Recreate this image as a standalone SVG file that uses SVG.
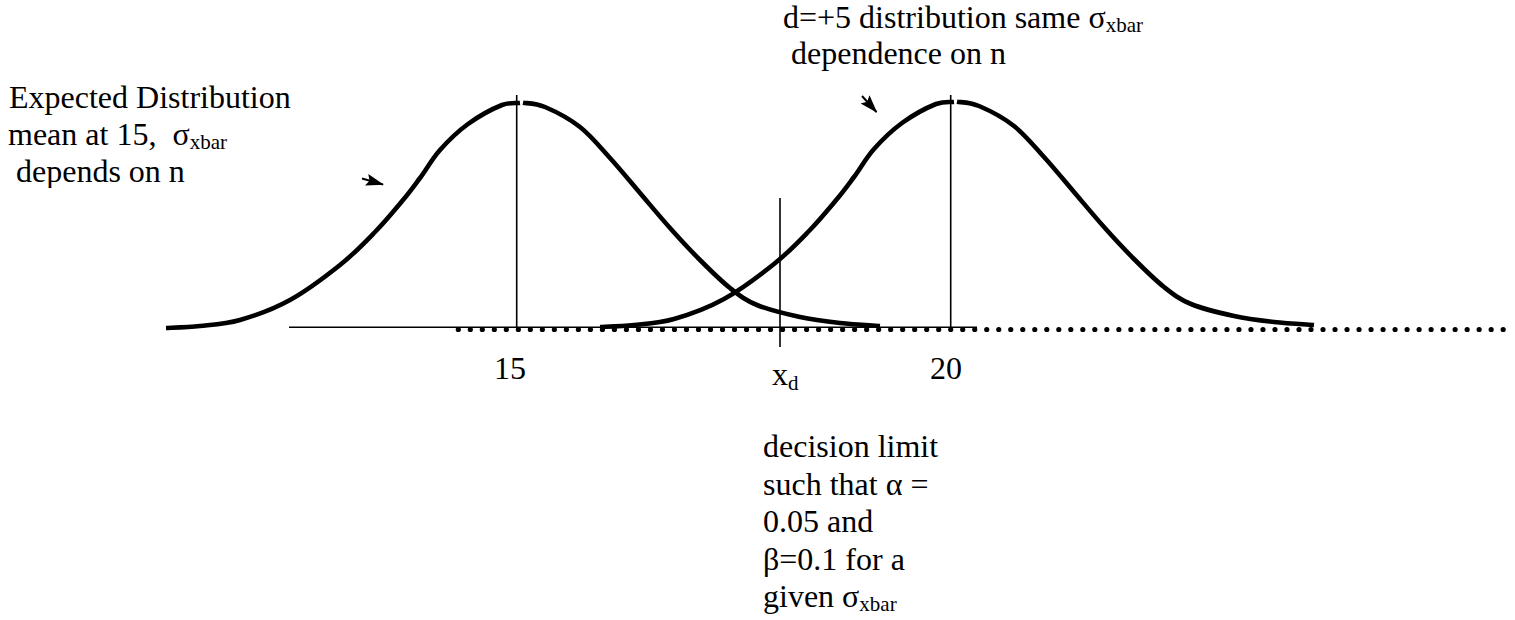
<svg xmlns="http://www.w3.org/2000/svg" width="1515" height="620" viewBox="0 0 1515 620" font-family="'Liberation Serif', 'Times New Roman', serif">
<style>
text{font-family:'Liberation Serif','Times New Roman',serif;font-size:32px;fill:#000;white-space:pre}
.sub{font-size:21px}
.curve{fill:none;stroke:#000;stroke-width:4.6;stroke-linejoin:round}
.thin{stroke:#000;stroke-width:1.6;fill:none}
.dots{stroke:#000;stroke-width:5.2;stroke-linecap:round;stroke-dasharray:0 12.01;fill:none}
.arr{stroke:#000;stroke-width:2;fill:none}
</style>
<defs>
<marker id="ah" viewBox="0 0 18 12" refX="17" refY="6" markerWidth="18" markerHeight="12" markerUnits="userSpaceOnUse" orient="auto" overflow="visible">
<path d="M0,0 L18,6 L0,12 L3,6 Z" fill="#000"/>
</marker>
<clipPath id="leftclip"><rect x="0" y="0" width="400" height="188"/></clipPath>
<g id="bell">
<path class="curve" d="M166,328 C171.7,327.7 187.7,327.3 200,326 C212.3,324.7 225,324.3 240,320 C255,315.7 273.3,309.2 290,300 C306.7,290.8 325.8,276.3 340,265 C354.2,253.7 364.5,242.8 375,232 C385.5,221.2 395.5,209 403,200 C410.5,191 413.8,186.3 420,178 C426.2,169.7 432,159 440,150 C448,141 457.7,131.5 468,124 C478.3,116.5 493.3,108.5 502,105 C510.7,102 517,103.3 520,103"/>
<path class="curve" d="M523,102.7 C526.7,103.4 535.5,103 545,107 C554.5,111.05 569.2,118.5 580,127 C590.8,135.5 600,147 610,158 C620,169 630,181.3 640,193 C650,204.7 660,216.8 670,228 C680,239.2 690,250 700,260 C710,270 720.5,280.5 730,288 C739.5,295.5 745.3,300.2 757,305 C768.7,309.8 786.2,314 800,317 C813.8,320 826.7,321.5 840,323 C853.3,324.5 873.3,325.5 880,326"/>
</g>
</defs>
<g id="axis">
<line class="thin" x1="289" y1="327.3" x2="977" y2="327.3"/>
<line class="dots" x1="458.3" y1="329.5" x2="1504" y2="329.5"/>
</g>
<g id="expected-curve">
<use href="#bell"/>
<line class="thin" x1="516.7" y1="95" x2="516.7" y2="327.3"/>
</g>
<g id="shifted-curve">
<use href="#bell" transform="translate(434,-1)"/>
<line class="thin" x1="950.7" y1="95" x2="950.7" y2="327.3"/>
</g>
<g id="decision-line">
<line class="thin" x1="780" y1="198" x2="780" y2="347"/>
</g>
<g id="connectors">
<line class="arr" x1="362" y1="178.5" x2="383" y2="184.5" marker-end="url(#ah)"/>
<line class="arr" x1="862" y1="96" x2="876.5" y2="112" marker-end="url(#ah)"/>
</g>
<g id="label-expected" clip-path="url(#leftclip)">
<text x="9" y="108">Expected Distribution</text>
<text x="8" y="145">mean at 15,  σ<tspan class="sub" dy="4">xbar</tspan></text>
<text x="8" y="182"> depends on n</text>
</g>
<g id="label-shifted">
<text x="783" y="28">d=+5 distribution same σ<tspan class="sub" dy="4">xbar</tspan></text>
<text x="783" y="64"> dependence on n</text>
</g>
<g id="axis-labels">
<text x="494" y="379">15</text>
<text x="930" y="379">20</text>
<text x="772" y="385">x<tspan class="sub" dy="5">d</tspan></text>
</g>
<g id="label-decision">
<text x="763" y="457">decision limit</text>
<text x="763" y="494.5">such that α =</text>
<text x="763" y="532">0.05 and</text>
<text x="763" y="569.5">β=0.1 for a</text>
<text x="763" y="607">given σ<tspan class="sub" dy="4">xbar</tspan></text>
</g>
</svg>
